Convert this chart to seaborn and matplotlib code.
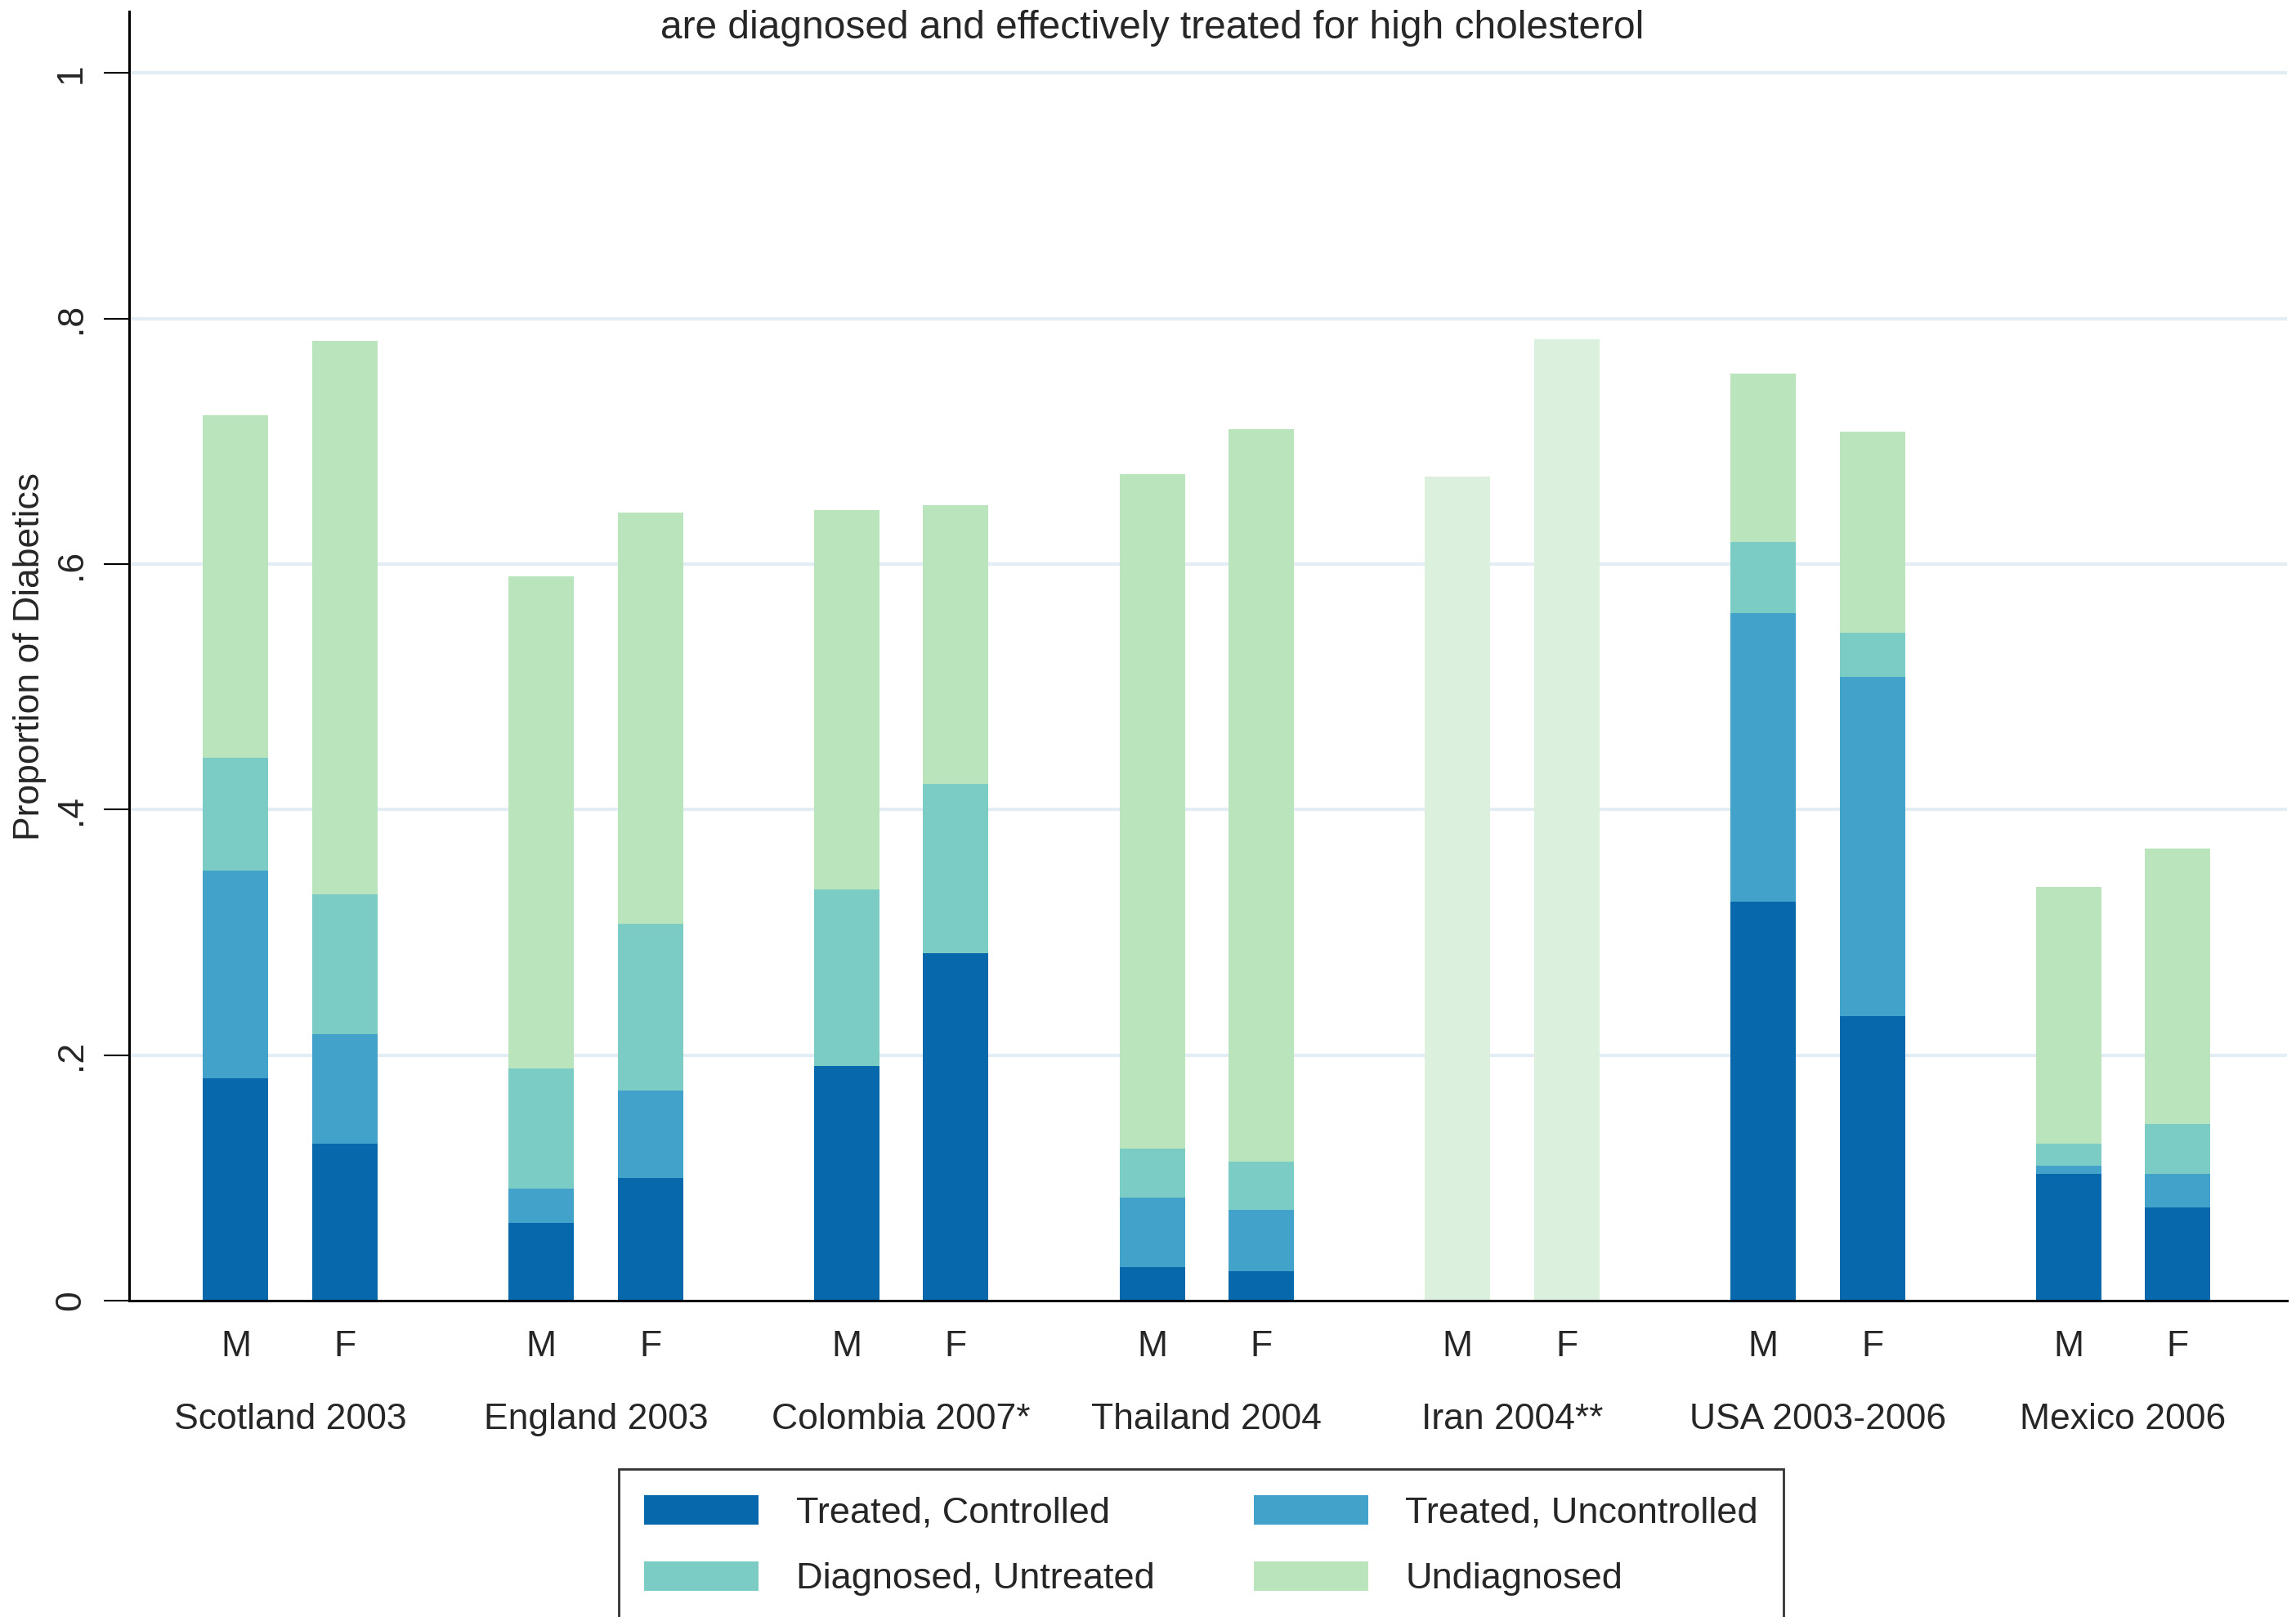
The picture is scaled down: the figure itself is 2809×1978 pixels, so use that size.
import numpy as np
import pandas as pd
import matplotlib
matplotlib.use("Agg")
import matplotlib.pyplot as plt
import seaborn as sns
from matplotlib.patches import Patch

# ---------------- data ----------------
countries = ["Scotland 2003", "England 2003", "Colombia 2007*", "Thailand 2004",
             "Iran 2004**", "USA 2003-2006", "Mexico 2006"]
sexes = ["M", "F"]
# one value per bar, order: Scotland M, Scotland F, England M, ...
treated_controlled   = [0.181, 0.128, 0.063, 0.100, 0.191, 0.283, 0.027, 0.024, 0.0, 0.0, 0.325, 0.232, 0.103, 0.076]
treated_uncontrolled = [0.169, 0.089, 0.028, 0.071, 0.000, 0.000, 0.057, 0.050, 0.0, 0.0, 0.235, 0.276, 0.007, 0.027]
diagnosed_untreated  = [0.092, 0.114, 0.098, 0.136, 0.144, 0.138, 0.040, 0.039, 0.0, 0.0, 0.058, 0.036, 0.018, 0.041]
undiagnosed          = [0.279, 0.451, 0.401, 0.335, 0.309, 0.227, 0.549, 0.597, 0.671, 0.783, 0.137, 0.164, 0.209, 0.224]
series_names = ["Treated, Controlled", "Treated, Uncontrolled", "Diagnosed, Untreated", "Undiagnosed"]
title_text = "are diagnosed and effectively treated for high cholesterol"
y_label = "Proportion of Diabetics"
y_ticks = [0, 0.2, 0.4, 0.6, 0.8, 1.0]
y_ticklabels = ["0", ".2", ".4", ".6", ".8", "1"]

colors = ["#0868ac", "#43a2ca", "#7bccc4", "#bae4bc"]
iran_color = "#dcf1dd"

# ---------------- frame ----------------
group_step = 2.8
rows = []
for gi, c in enumerate(countries):
    for si, s in enumerate(sexes):
        rows.append({"country": c, "sex": s, "pos": gi * group_step + si})
df = pd.DataFrame(rows)
vals = np.array([treated_controlled, treated_uncontrolled, diagnosed_untreated, undiagnosed])
cum = np.cumsum(vals, axis=0)
for k in range(4):
    df[f"cum{k}"] = cum[k]

sns.set_style("white")
plt.rcParams["font.family"] = ["Liberation Sans", "DejaVu Sans"]

fig = plt.figure(figsize=(28.09, 19.78), dpi=100)
ax = fig.add_axes([0.0561, 0.1957, 0.9399, 0.7971])

# grid lines
for yv in y_ticks[1:]:
    ax.axhline(yv, color="#e2eef3", lw=3, zorder=0)

is_iran = df["country"] == "Iran 2004**"
for k in [3, 2, 1, 0]:
    sub = df[~is_iran] if k == 3 else df
    sns.barplot(data=sub, x="pos", y=f"cum{k}", native_scale=True, color=colors[k],
                width=0.6, errorbar=None, saturation=1, ax=ax, zorder=2, linewidth=0)
    if k == 3:
        sns.barplot(data=df[is_iran], x="pos", y=f"cum{k}", native_scale=True, color=iran_color,
                    width=0.6, errorbar=None, saturation=1, ax=ax, zorder=2, linewidth=0)

ax.set_xlim(-0.98, (len(countries) - 1) * group_step + 1 + 1.0)
ax.set_ylim(0, 1.05)

# axes styling
for side in ["top", "right"]:
    ax.spines[side].set_visible(False)
for side in ["left", "bottom"]:
    ax.spines[side].set_visible(True)
    ax.spines[side].set_color("black")
    ax.spines[side].set_linewidth(2.2)

ax.set_yticks(y_ticks)
ax.set_yticklabels(y_ticklabels, rotation=90, va="center", fontsize=32)
ax.tick_params(axis="y", which="major", length=22, width=1.5, color="black", pad=14, left=True)
ax.set_ylabel(y_label, fontsize=32, labelpad=7)

ax.set_xticks(df["pos"].values)
ax.set_xticklabels(df["sex"].values, fontsize=32)
ax.tick_params(axis="x", length=0, pad=26)
ax.set_xlabel("")

xt = ax.get_xaxis_transform()
for gi, c in enumerate(countries):
    ax.text(gi * group_step + 0.5, -0.0925, c, transform=xt, ha="center", va="center", fontsize=32)

fig.text(0.502, 0.9828, title_text, ha="center", va="center", fontsize=34.5)

handles = [Patch(facecolor=colors[0], edgecolor="none"),
           Patch(facecolor=colors[2], edgecolor="none"),
           Patch(facecolor=colors[1], edgecolor="none"),
           Patch(facecolor=colors[3], edgecolor="none")]
labels = [series_names[0], series_names[2], series_names[1], series_names[3]]
leg = fig.legend(handles, labels, loc="upper center", bbox_to_anchor=(0.5232, 0.0915), ncol=2,
                 fontsize=32.5, frameon=True, fancybox=False, edgecolor="black",
                 handlelength=3.1, handleheight=0.85, handletextpad=1.0, columnspacing=2.7,
                 borderpad=0.7, labelspacing=0.85, borderaxespad=0)
leg.get_frame().set_linewidth(2.0)

fig.savefig("out.png", dpi=100, facecolor="white")
